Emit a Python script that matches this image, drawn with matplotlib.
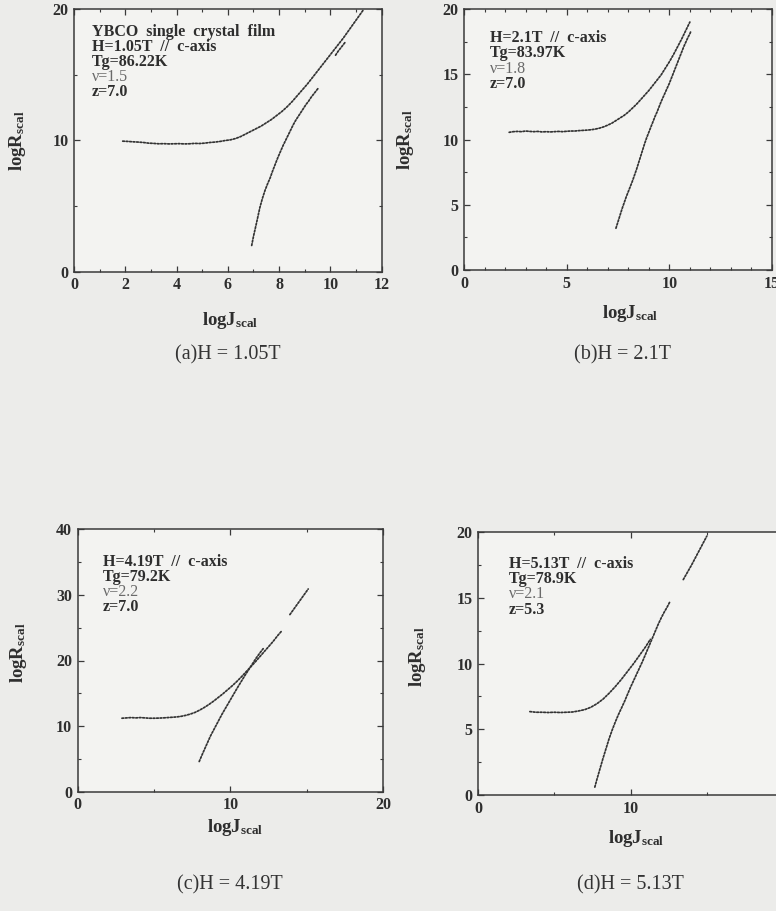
import numpy as np
import matplotlib
matplotlib.use("Agg")
import matplotlib.pyplot as plt
from matplotlib.ticker import MultipleLocator

plt.rcParams["font.family"] = ["Liberation Serif", "DejaVu Serif"]
plt.rcParams["mathtext.fontset"] = "custom"
plt.rcParams["mathtext.rm"] = "Liberation Serif"
plt.rcParams["mathtext.bf"] = "Liberation Serif:bold"

nan = np.nan

# ---- (a) H = 1.05 T ----
a_upper_x = [1.9, 2.1, 2.3, 2.5, 2.7, 2.9, 3.1, 3.3, 3.5, 3.7, 3.9, 4.1, 4.3, 4.5,
             4.7, 4.9, 5.1, 5.3, 5.5, 5.7, 5.9, 6.1, 6.3, 6.5, 6.7, 6.9, 7.1, 7.3,
             7.5, 7.7, 7.9, 8.1, 8.3, 8.5, 8.7, 8.9, 9.1, 9.3, 9.5, 9.7, 9.9, 10.1,
             10.3, 10.5, 10.7, 10.9, 11.1, 11.3]
a_upper_y = [9.95, 9.93, 9.9, 9.88, 9.85, 9.8, 9.78, 9.75, 9.76, 9.74, 9.75, 9.76,
             9.74, 9.75, 9.78, 9.77, 9.8, 9.85, 9.88, 9.93, 10.0, 10.05, 10.15, 10.3,
             10.5, 10.7, 10.9, 11.1, 11.35, 11.6, 11.9, 12.2, 12.55, 12.95, 13.4,
             13.85, 14.3, 14.8, 15.3, 15.8, 16.3, 16.8, 17.3, 17.8, 18.35, 18.9,
             19.45, 20.0]
a_lower_x = [6.93, 7.0, 7.07, 7.15, 7.25, 7.35, 7.45, 7.55, 7.65, 7.75, 7.85, 7.95,
             8.05, 8.15, 8.25, 8.35, 8.45, 8.55, 8.65, 8.75, 8.85, 8.95, 9.05, 9.15,
             9.25, 9.35, 9.45, 9.55, nan, 10.2, 10.3, 10.4, 10.5, 10.6]
a_lower_y = [2.0, 2.7, 3.3, 4.0, 4.9, 5.6, 6.2, 6.7, 7.15, 7.7, 8.2, 8.7, 9.15, 9.6,
             10.0, 10.4, 10.8, 11.2, 11.55, 11.85, 12.15, 12.45, 12.75, 13.0, 13.3,
             13.55, 13.8, 14.05, nan, 16.5, 16.8, 17.05, 17.3, 17.55]

# ---- (b) H = 2.1 T ----
b_upper_x = [2.2, 2.4, 2.6, 2.8, 3.0, 3.2, 3.4, 3.6, 3.8, 4.0, 4.2, 4.4, 4.6, 4.8,
             5.0, 5.2, 5.4, 5.6, 5.8, 6.0, 6.2, 6.4, 6.6, 6.8, 7.0, 7.2, 7.4, 7.6,
             7.8, 8.0, 8.2, 8.4, 8.6, 8.8, 9.0, 9.2, 9.4, 9.6, 9.8, 10.0, 10.2, 10.4,
             10.6, 10.8, 11.0]
b_upper_y = [10.55, 10.6, 10.62, 10.6, 10.65, 10.62, 10.6, 10.62, 10.58, 10.6,
             10.58, 10.6, 10.62, 10.6, 10.63, 10.65, 10.65, 10.68, 10.7, 10.72,
             10.75, 10.8, 10.87, 10.97, 11.1, 11.25, 11.45, 11.65, 11.85, 12.1,
             12.4, 12.7, 13.05, 13.4, 13.75, 14.15, 14.55, 14.95, 15.45, 15.95,
             16.5, 17.1, 17.7, 18.35, 19.0]
b_lower_x = [7.4, 7.5, 7.6, 7.7, 7.8, 7.9, 8.0, 8.1, 8.2, 8.3, 8.4, 8.5, 8.6, 8.7,
             8.8, 8.9, 9.0, 9.1, 9.2, 9.3, 9.4, 9.5, 9.6, 9.7, 9.8, 9.9, 10.0, 10.1,
             10.2, 10.3, 10.4, 10.5, 10.6, 10.7, 10.8, 10.9, 11.0, 11.05]
b_lower_y = [3.2, 3.7, 4.2, 4.7, 5.15, 5.6, 6.0, 6.4, 6.8, 7.25, 7.7, 8.2, 8.7, 9.2,
             9.7, 10.15, 10.55, 10.95, 11.35, 11.75, 12.1, 12.5, 12.9, 13.25, 13.6,
             13.95, 14.3, 14.7, 15.1, 15.5, 15.9, 16.3, 16.7, 17.1, 17.45, 17.8,
             18.1, 18.3]

# ---- (c) H = 4.19 T ----
c_upper_x = [2.9, 3.2, 3.5, 3.8, 4.1, 4.4, 4.7, 5.0, 5.3, 5.6, 5.9, 6.2, 6.5, 6.8,
             7.1, 7.4, 7.7, 8.0, 8.3, 8.6, 8.9, 9.2, 9.5, 9.8, 10.1, 10.4, 10.7,
             11.0, 11.3, 11.6, 11.9, 12.2, 12.5, 12.8, 13.1, 13.4, nan, 13.9, 14.3,
             14.7, 15.1]
c_upper_y = [11.2, 11.25, 11.3, 11.25, 11.3, 11.25, 11.2, 11.2, 11.22, 11.25, 11.3,
             11.35, 11.4, 11.5, 11.65, 11.85, 12.1, 12.45, 12.85, 13.3, 13.8, 14.35,
             14.9, 15.5, 16.1, 16.75, 17.45, 18.2, 18.95, 19.7, 20.5, 21.3, 22.1,
             22.9, 23.8, 24.6, nan, 27.0, 28.3, 29.6, 30.9]
c_lower_x = [7.96, 8.2, 8.45, 8.7, 8.95, 9.2, 9.45, 9.7, 9.95, 10.2, 10.45, 10.7,
             10.95, 11.2, 11.45, 11.7, 11.95, 12.15]
c_lower_y = [4.6, 5.9, 7.2, 8.5, 9.6, 10.7, 11.8, 12.8, 13.8, 14.8, 15.8, 16.75,
             17.7, 18.6, 19.5, 20.4, 21.2, 21.8]

# ---- (d) H = 5.13 T ----
d_upper_x = [3.4, 3.8, 4.2, 4.6, 5.0, 5.4, 5.8, 6.2, 6.6, 7.0, 7.4, 7.8, 8.2, 8.6,
             9.0, 9.4, 9.8, 10.2, 10.6, 11.0, 11.3, nan, 13.46, 14.0, 14.5, 15.0]
d_upper_y = [6.35, 6.3, 6.3, 6.28, 6.3, 6.28, 6.3, 6.32, 6.4, 6.5, 6.68, 6.95, 7.3,
             7.75, 8.25, 8.8, 9.4, 10.0, 10.65, 11.3, 11.85, nan, 16.4, 17.5, 18.6,
             19.7]
d_lower_x = [7.66, 7.8, 8.0, 8.2, 8.4, 8.6, 8.8, 9.0, 9.2, 9.4, 9.6, 9.8, 10.0, 10.2,
             10.4, 10.6, 10.8, 11.0, 11.2, 11.4, 11.6, 11.8, 12.0, 12.2, 12.4, 12.6]
d_lower_y = [0.6, 1.2, 2.0, 2.8, 3.55, 4.3, 4.95, 5.55, 6.1, 6.6, 7.1, 7.65, 8.2,
             8.7, 9.2, 9.7, 10.2, 10.75, 11.3, 11.85, 12.4, 12.95, 13.45, 13.9, 14.3,
             14.75]

captions = ["(a)H = 1.05T", "(b)H = 2.1T", "(c)H = 4.19T", "(d)H = 5.13T"]
notes = [
    ["YBCO  single  crystal  film", "H=1.05T  //  c-axis", "Tg=86.22K", "\u03bd=1.5", "z=7.0"],
    ["H=2.1T  //  c-axis", "Tg=83.97K", "\u03bd=1.8", "z=7.0"],
    ["H=4.19T  //  c-axis", "Tg=79.2K", "\u03bd=2.2", "z=7.0"],
    ["H=5.13T  //  c-axis", "Tg=78.9K", "\u03bd=2.1", "z=5.3"],
]

W, H = 776, 911
PAGE = "#ececea"
INK = "#2e2e2e"

fig = plt.figure(figsize=(W / 100, H / 100), dpi=100, facecolor=PAGE)


def px_axes(l, t, r, b):
    return fig.add_axes([l / W, 1 - b / H, (r - l) / W, (b - t) / H])


panels = [
    dict(box=(74, 9.3, 381.7, 271.7), xlim=(0, 12), ylim=(0, 20), xmaj=2, xmin=1,
         ymaj=10, ymin=5, upper=(a_upper_x, a_upper_y), lower=(a_lower_x, a_lower_y),
         note_xy=(0.057, 0.915), xl=(0.507, -0.185), yl=(-0.185, 0.5), cap=(228, 355)),
    dict(box=(464, 9, 772, 270), xlim=(0, 15), ylim=(0, 20), xmaj=5, xmin=1,
         ymaj=5, ymin=2.5, upper=(b_upper_x, b_upper_y), lower=(b_lower_x, b_lower_y),
         note_xy=(0.084, 0.888), xl=(0.539, -0.165), yl=(-0.19, 0.5), cap=(622, 355)),
    dict(box=(77.7, 529.3, 383, 791.7), xlim=(0, 20), ylim=(0, 40), xmaj=10, xmin=5,
         ymaj=10, ymin=5, upper=(c_upper_x, c_upper_y), lower=(c_lower_x, c_lower_y),
         note_xy=(0.082, 0.876), xl=(0.515, -0.135), yl=(-0.195, 0.53), cap=(230, 885)),
    dict(box=(478, 532.3, 783, 795), xlim=(0, 20), ylim=(0, 20), xmaj=10, xmin=5,
         ymaj=5, ymin=2.5, upper=(d_upper_x, d_upper_y), lower=(d_lower_x, d_lower_y),
         note_xy=(0.1016, 0.88), xl=(0.52, -0.165), yl=(-0.197, 0.525), cap=(630, 885)),
]

for p, cap, note in zip(panels, captions, notes):
    ax = px_axes(*p["box"])
    ax.set_facecolor("#f3f3f1")
    ax.set_xlim(*p["xlim"])
    ax.set_ylim(*p["ylim"])
    for s in ax.spines.values():
        s.set_color("#3a3a3a")
        s.set_linewidth(1.1)
    ax.xaxis.set_major_locator(MultipleLocator(p["xmaj"]))
    ax.xaxis.set_minor_locator(MultipleLocator(p["xmin"]))
    ax.yaxis.set_major_locator(MultipleLocator(p["ymaj"]))
    ax.yaxis.set_minor_locator(MultipleLocator(p["ymin"]))
    ax.tick_params(which="both", direction="in", top=True, right=True,
                   colors="#3a3a3a", labelcolor=INK)
    ax.tick_params(which="major", length=4, width=0.9, labelsize=11.5, pad=4)
    ax.tick_params(which="minor", length=2.5, width=0.8)
    for lab in ax.get_xticklabels() + ax.get_yticklabels():
        lab.set_fontweight("bold")

    for (xs, ys) in (p["upper"], p["lower"]):
        ax.plot(xs, ys, color="#333333", lw=1.25, ls=(0, (1.0, 1.0)),
                solid_capstyle="round", dash_capstyle="round")

    nx, ny = p["note_xy"]
    for i, line in enumerate(note):
        nu = line.startswith("\u03bd")
        ax.text(nx, ny - i * 0.058, line, transform=ax.transAxes,
                fontsize=11.5, fontweight="normal" if nu else "bold",
                color="#6a6a6a" if nu else INK, va="center", ha="left")

    ax.set_xlabel(r"$\mathbf{logJ_{scal}}$", fontsize=13.5, color=INK)
    ax.set_ylabel(r"$\mathbf{logR_{scal}}$", fontsize=13.5, color=INK)
    ax.xaxis.set_label_coords(*p["xl"])
    ax.yaxis.set_label_coords(*p["yl"])
    ax.xaxis.label.set_va("center")
    ax.yaxis.label.set_va("center")

    cx, cy = p["cap"]
    fig.text(cx / W, 1 - cy / H, cap, ha="center", va="center",
             fontsize=14.5, color="#333333")

fig.savefig("out.png", dpi=100, facecolor=PAGE)
